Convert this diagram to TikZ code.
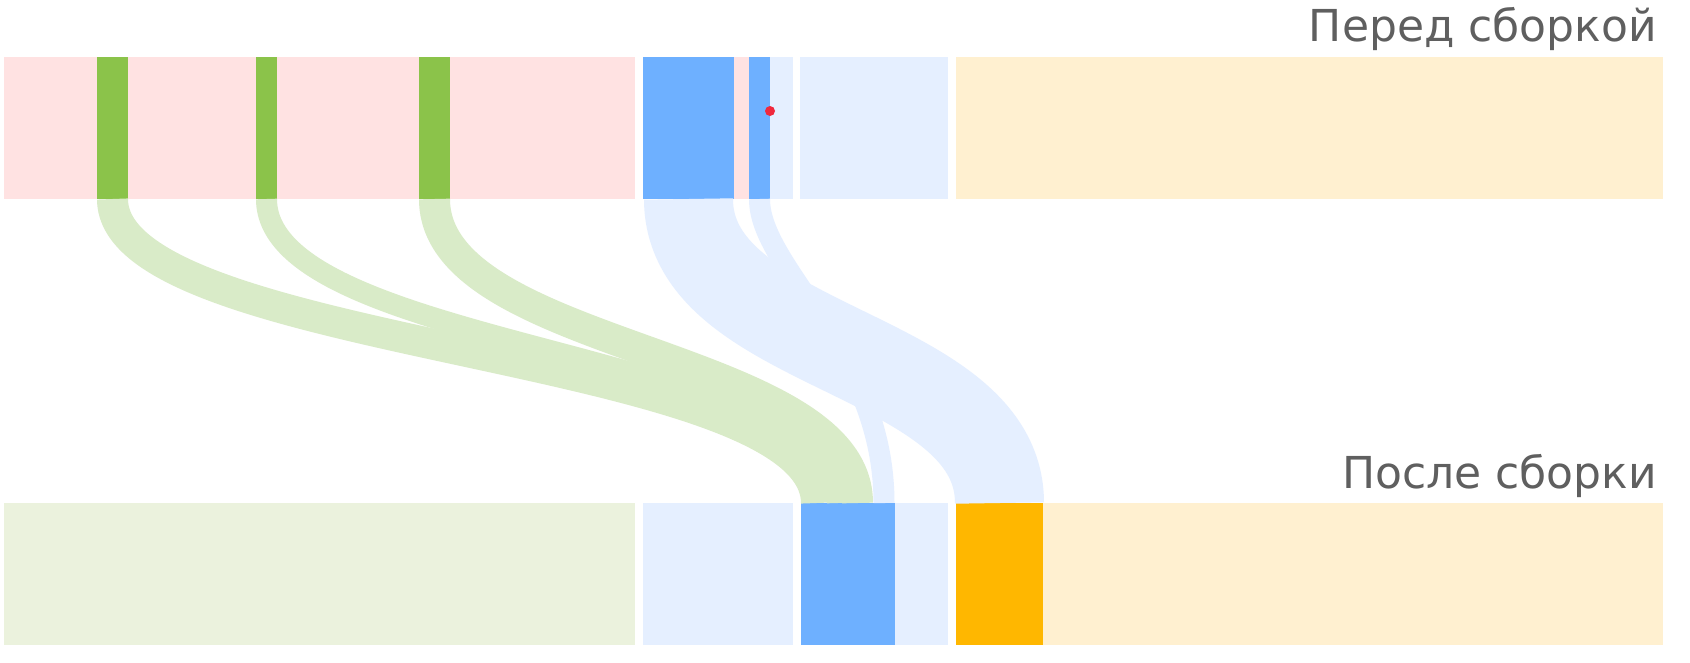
\documentclass[tikz,border=0pt]{standalone}
\usepackage{fontspec}
\setmainfont{DejaVu Sans}
\usetikzlibrary{positioning,calc}
\definecolor{rose}{HTML}{FFE2E2}
\definecolor{leaf}{HTML}{8BC34A}
\definecolor{leafsoft}{HTML}{D9EBC8}
\definecolor{leafpale}{HTML}{EBF2DD}
\definecolor{sky}{HTML}{6EB0FF}
\definecolor{skysoft}{HTML}{E5EFFF}
\definecolor{sand}{HTML}{FFF0D0}
\definecolor{amber}{HTML}{FFB700}
\definecolor{dotred}{HTML}{F0283C}
\definecolor{ink}{HTML}{5F5F5F}

\begin{document}
\begin{tikzpicture}[x=1pt, y=-1pt,
  seg/.style={inner sep=0pt, outer sep=0pt, minimum height=142pt},
  flw/.style={line cap=butt},
  ttl/.style={font=\fontsize{44}{52}\selectfont, text=ink, anchor=base east, inner sep=0pt}]
\useasboundingbox[fill=white] (0,0) rectangle (1690,662);
% before assembly
\node[seg, fill=rose, minimum width=631pt, anchor=north west] (pre) at (4,57) {};
\node[seg, fill=sky, minimum width=91pt, right=8pt of pre] (b1) {};
\node[seg, fill=rose, minimum width=15pt, right=0pt of b1] (pk) {};
\node[seg, fill=sky, minimum width=21pt, right=0pt of pk] (b2) {};
\node[seg, fill=skysoft, minimum width=23pt, right=0pt of b2] (lb1) {};
\node[seg, fill=skysoft, minimum width=148pt, right=7pt of lb1] (lb2) {};
\node[seg, fill=sand, minimum width=707pt, right=8pt of lb2] (ye1) {};
\foreach \n/\x/\w in {g1/93/31, g2/252/21, g3/415/31}
  \node[seg, fill=leaf, minimum width=\w pt, anchor=north west] (\n) at ($(pre.north west)+(\x,0)$) {};
\node[circle, fill=dotred, minimum size=10pt, inner sep=0pt] (dot) at (770,111) {};
% after assembly
\node[seg, fill=leafpale, minimum width=631pt, anchor=north west] (post) at (4,503) {};
\node[seg, fill=skysoft, minimum width=150pt, right=8pt of post] (lb3) {};
\node[seg, fill=sky, minimum width=94pt, right=8pt of lb3] (bb) {};
\node[seg, fill=skysoft, minimum width=53pt, right=0pt of bb] (lb4) {};
\node[seg, fill=amber, minimum width=87pt, right=8pt of lb4] (am) {};
\node[seg, fill=sand, minimum width=620pt, right=0pt of am] (ye2) {};
\coordinate (in1) at ($(bb.north west)+(15.5,0)$);
\coordinate (in2) at ($(bb.north west)+(36.5,0)$);
\coordinate (in3) at ($(bb.north west)+(56.5,0)$);
\coordinate (in4) at ($(bb.north west)+(83,0)$);
% flows
\draw[flw, skysoft, line width=89pt] (b1.south) .. controls +(0,152) and +(0,-152) .. (am.north);
\draw[flw, skysoft, line width=21pt] (b2.south) .. controls +(0,70) and +(0,-152) .. (in4);
\draw[flw, leafsoft, line width=31pt] (g1.south) .. controls +(0,152) and +(0,-152) .. (in1);
\draw[flw, leafsoft, line width=21pt] (g2.south) .. controls +(0,152) and +(0,-152) .. (in2);
\draw[flw, leafsoft, line width=31pt] (g3.south) .. controls +(0,152) and +(0,-152) .. (in3);
\node[ttl] (before) at (1657,41) {Перед сборкой};
\node[ttl] (after) at (1657,488) {После сборки};
\end{tikzpicture}
\end{document}
